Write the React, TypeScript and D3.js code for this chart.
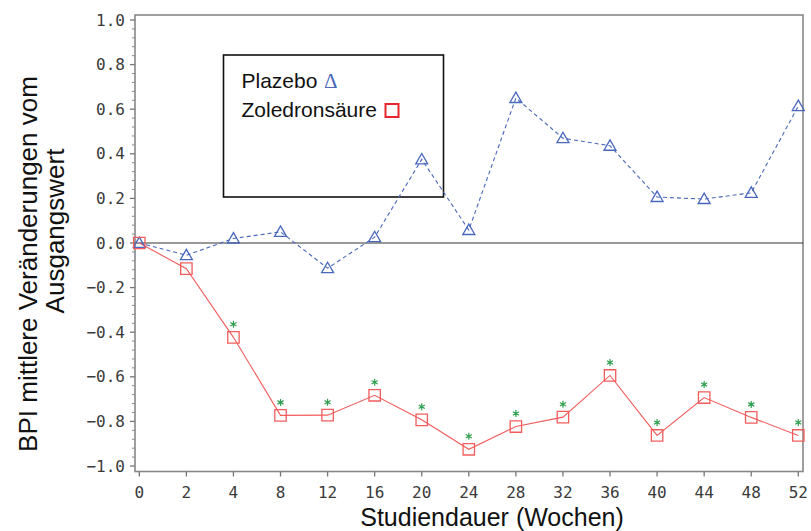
import * as d3 from 'd3';

const weeks = ['0', '2', '4', '8', '12', '16', '20', '24', '28', '32', '36', '40', '44', '48', '52'];
const plazebo = [0.0, -0.055, 0.02, 0.05, -0.113, 0.026, 0.375, 0.058, 0.65, 0.47, 0.436, 0.206, 0.197, 0.225, 0.614];
const zoledron = [0.0, -0.115, -0.423, -0.773, -0.772, -0.683, -0.793, -0.925, -0.823, -0.781, -0.594, -0.863, -0.693, -0.782, -0.863];
const significant = [false, false, true, true, true, true, true, true, true, true, true, true, true, true, true];
const yTicks = [-1.0, -0.8, -0.6, -0.4, -0.2, 0.0, 0.2, 0.4, 0.6, 0.8, 1.0];

const W = 811;
const H = 531;
const frame = { left: 135, top: 15, right: 803, bottom: 471.5 };

const blue = '#4867bd';
const red = '#f25c5c';
const green = '#2e9e4f';
const tickFont = '"DejaVu Sans Mono", monospace';
const textFont = '"Liberation Sans", Arial, sans-serif';

export default function App() {
  const x = d3.scalePoint<string>().domain(weeks).range([139.3, 798.3]);
  const y = d3.scaleLinear().domain([-1, 1]).range([466, 20]);

  const linePts = d3.line<number>()
    .x((_d, i) => x(weeks[i]) as number)
    .y(d => y(d));

  const tri = d3.symbol(d3.symbolTriangle, 62)();
  const sq = d3.symbol(d3.symbolSquare, 130)();
  const star = d3.symbol(d3.symbolAsterisk, 34)();

  // minor ticks every 0.04 between the labelled ones
  const minor = d3.range(-1, 1.0001, 0.04).filter(v => Math.abs(Math.round(v * 5) - v * 5) > 0.01);
  const fmt = (v: number) => (v < 0 ? '\u2212' : '') + Math.abs(v).toFixed(1);

  return (
    <svg width={W} height={H} style={{ position: 'absolute', left: 0, top: 0, background: '#fff' }}>
      {/* frame */}
      <rect x={frame.left} y={frame.top} width={frame.right - frame.left} height={frame.bottom - frame.top}
        fill="none" stroke="#888" strokeWidth={1.6} />

      {/* y axis ticks */}
      {yTicks.map(v => (
        <g key={'y' + v}>
          <line x1={frame.left - 5} x2={frame.left} y1={y(v)} y2={y(v)} stroke="#777" strokeWidth={1.3} />
          <text x={125} y={y(v) + 5.5} textAnchor="end" fontFamily={tickFont} fontSize={16} fill="#3a3a3a">{fmt(v)}</text>
        </g>
      ))}
      {minor.map(v => (
        <line key={'m' + v} x1={frame.left - 3} x2={frame.left} y1={y(v)} y2={y(v)} stroke="#888" strokeWidth={1} />
      ))}

      {/* x axis ticks */}
      {weeks.map(w => (
        <g key={'x' + w}>
          <line x1={x(w)} x2={x(w)} y1={frame.bottom} y2={frame.bottom + 5} stroke="#777" strokeWidth={1.3} />
          <text x={x(w)} y={497.5} textAnchor="middle" fontFamily={tickFont} fontSize={16} fill="#3a3a3a">{w}</text>
        </g>
      ))}

      {/* zero line */}
      <line x1={frame.left} x2={frame.right} y1={y(0)} y2={y(0)} stroke="#333" strokeWidth={1} />

      {/* legend */}
      <rect x={223.5} y={55} width={220} height={142} fill="#fff" stroke="#111" strokeWidth={1.6} />
      <text x={241.5} y={88} fontFamily={textFont} fontSize={21} fill="#111">Plazebo</text>
      <text x={324} y={88} fontFamily='"Liberation Serif", serif' fontSize={21} fill={blue}>Δ</text>
      <text x={241.5} y={117} fontFamily={textFont} fontSize={21} fill="#111">Zoledronsäure</text>
      <rect x={385.5} y={104} width={13} height={13} fill="none" stroke="#e8262a" strokeWidth={2} />

      {/* series lines */}
      <path d={linePts(plazebo) ?? ''} fill="none" stroke={blue} strokeWidth={1.1} strokeDasharray="4,3" />
      <path d={linePts(zoledron) ?? ''} fill="none" stroke={red} strokeWidth={1.1} />

      {/* markers */}
      {plazebo.map((v, i) => (
        <path key={'p' + i} d={tri ?? ''} transform={`translate(${x(weeks[i])},${y(v) + 1})`}
          fill="none" stroke={blue} strokeWidth={1.3} />
      ))}
      {zoledron.map((v, i) => (
        <path key={'z' + i} d={sq ?? ''} transform={`translate(${x(weeks[i])},${y(v)})`}
          fill="none" stroke={red} strokeWidth={1.3} />
      ))}
      {zoledron.map((v, i) => significant[i] ? (
        <path key={'s' + i} d={star ?? ''} transform={`translate(${x(weeks[i])},${y(v) - 13})`}
          fill="none" stroke={green} strokeWidth={1.2} />
      ) : null)}

      {/* axis titles */}
      <text x={492} y={525.5} textAnchor="middle" fontFamily={textFont} fontSize={25} fill="#111">Studiendauer (Wochen)</text>
      <text transform="translate(37,264) rotate(-90)" textAnchor="middle" fontFamily={textFont} fontSize={26} fill="#111">
        BPI mittlere Veränderungen vom
      </text>
      <text transform="translate(64,231) rotate(-90)" textAnchor="middle" fontFamily={textFont} fontSize={26} fill="#111">
        Ausgangswert
      </text>
    </svg>
  );
}
